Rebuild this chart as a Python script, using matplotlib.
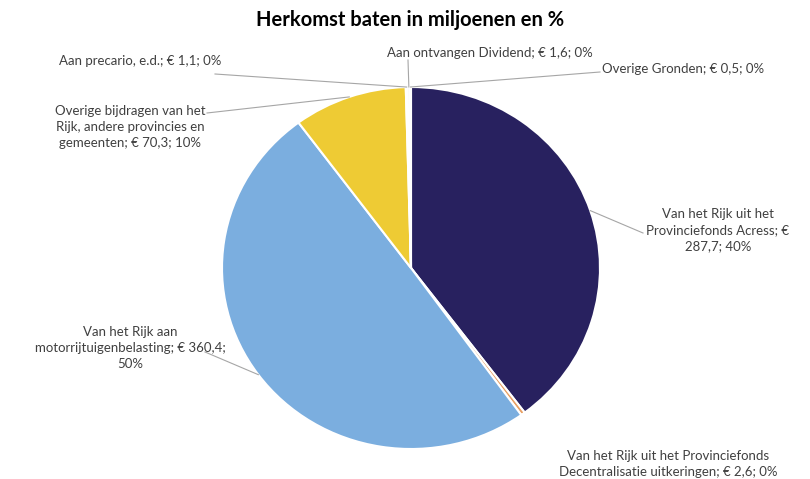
import numpy as np
import matplotlib
matplotlib.use("Agg")
import matplotlib.pyplot as plt

plt.rcParams['font.family'] = ['Lato', 'DejaVu Sans']

title = "Herkomst baten in miljoenen en %"
labels = [
    "Van het Rijk uit het\nProvinciefonds Acress; €\n287,7; 40%",
    "Van het Rijk uit het Provinciefonds\nDecentralisatie uitkeringen; € 2,6; 0%",
    "Van het Rijk aan\nmotorrijtuigenbelasting; € 360,4;\n50%",
    "Overige bijdragen van het\nRijk, andere provincies en\ngemeenten; € 70,3; 10%",
    "Aan precario, e.d.; € 1,1; 0%",
    "Aan ontvangen Dividend; € 1,6; 0%",
    "Overige Gronden; € 0,5; 0%",
]
values = [287.7, 2.6, 360.4, 70.3, 1.1, 1.6, 0.5]
colors = ["#28215F", "#E9A063", "#7BAEDF", "#EECB34", "#E6E6EE", "#F2F2F2", "#DCDCE6"]

# layout (pixel coordinates, y downwards)
W, H = 810, 479
cx, cy = 411, 268
RX, RY = 189, 181          # slightly wider than tall, as in the reference
k = RX / RY                # vertical data scale so the circle is stretched
text_pos = [(718, 230), (668, 464), (130, 348), (130, 127), (140, 61), (490, 53), (602, 69)]
text_ha = ["center", "center", "center", "center", "center", "center", "left"]
leader_end = [(643, 233), None, (205, 352), (207, 113), (215, 74), (408, 60), (600, 72)]


def Y(py):
    return (H - py) * k


fig = plt.figure(figsize=(W / 100, H / 100), dpi=100)
ax = fig.add_axes([0, 0, 1, 1])

wedges, _ = ax.pie(values, colors=colors, startangle=90, counterclock=False,
                   center=(cx, Y(cy)), radius=RX,
                   wedgeprops=dict(edgecolor="white", linewidth=1.5), frame=True)
ax.set_aspect("auto")
ax.set_xlim(0, W)
ax.set_ylim(0, H * k)
ax.axis("off")

for i, w in enumerate(wedges):
    mid = np.deg2rad((w.theta1 + w.theta2) / 2)
    ex = cx + RX * np.cos(mid)
    ey = Y(cy) + RX * np.sin(mid)
    tx, ty = text_pos[i]
    ax.text(tx, Y(ty), labels[i], ha=text_ha[i], va="center", fontsize=9.5,
            color="#404040", linespacing=1.4)
    if leader_end[i] is not None:
        lx, ly = leader_end[i]
        ax.plot([lx, ex], [Y(ly), ey], color="#A6A6A6", lw=0.8)

ax.text(W / 2 + 5, Y(20), title, ha="center", va="center", fontsize=14.5,
        fontweight="bold", color="#000000")

fig.savefig("out.png", dpi=100)
